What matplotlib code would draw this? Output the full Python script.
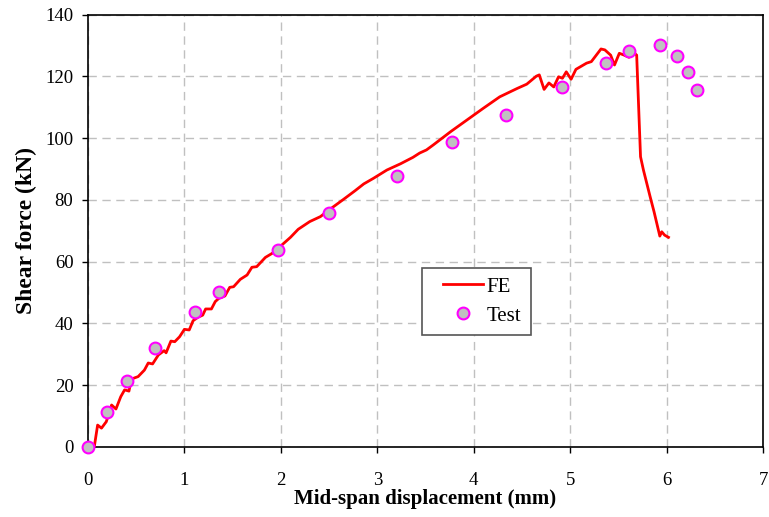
import matplotlib
matplotlib.use('Agg')
import matplotlib.pyplot as plt
from matplotlib.lines import Line2D
from matplotlib.legend_handler import HandlerLine2D

# FE curve (mid-span displacement mm, shear force kN)
fe_disp = [0.0, 0.065, 0.10, 0.14, 0.19, 0.245, 0.29, 0.34, 0.38, 0.425, 0.45, 0.52,
           0.585, 0.625, 0.67, 0.73, 0.79, 0.81, 0.86, 0.90, 0.95, 1.0, 1.05, 1.09,
           1.14, 1.19, 1.22, 1.28, 1.32, 1.36, 1.42, 1.47, 1.51, 1.58, 1.65, 1.70,
           1.75, 1.84, 1.92, 2.01, 2.10, 2.18, 2.30, 2.41, 2.51, 2.65, 2.77, 2.86,
           2.96, 3.10, 3.24, 3.37, 3.44, 3.51, 3.58, 3.76, 3.93, 4.10, 4.27, 4.45,
           4.55, 4.65, 4.68, 4.73, 4.78, 4.83, 4.88, 4.92, 4.96, 5.01, 5.06, 5.17,
           5.22, 5.32, 5.36, 5.42, 5.46, 5.51, 5.56, 5.61, 5.66, 5.69, 5.73, 5.76,
           5.83, 5.87, 5.93, 5.95, 5.98, 6.02]
fe_force = [0.0, 0.0, 7.1, 6.1, 8.2, 13.6, 12.3, 16.3, 18.5, 18.1, 22.0, 22.8,
            24.9, 27.2, 26.9, 29.8, 31.2, 30.5, 34.3, 34.1, 35.7, 38.1, 37.9, 40.9,
            42.0, 42.7, 44.7, 44.7, 47.1, 48.2, 48.9, 51.7, 51.9, 54.3, 55.7, 58.2,
            58.4, 61.4, 62.9, 65.4, 67.9, 70.5, 73.0, 74.6, 77.0, 80.2, 83.0, 85.2,
            87.0, 89.7, 91.7, 93.8, 95.2, 96.2, 97.8, 102.1, 105.9, 109.7, 113.4, 116.1,
            117.5, 120.1, 120.5, 115.8, 117.9, 116.6, 119.9, 119.4, 121.5, 119.1, 122.3, 124.3,
            124.8, 128.9, 128.6, 126.9, 123.7, 127.5, 126.9, 126.2, 127.7, 126.9, 94.0, 89.7,
            81.0, 76.2, 68.3, 69.7, 68.6, 67.9]

# Test results
test_disp = [0.0, 0.20, 0.40, 0.70, 1.11, 1.36, 1.97, 2.50, 3.20, 3.77, 4.34,
             4.92, 5.37, 5.61, 5.93, 6.11, 6.22, 6.32]
test_force = [0.0, 11.3, 21.4, 32.0, 43.7, 50.2, 63.8, 75.8, 87.8, 98.8, 107.5,
              116.6, 124.3, 128.2, 130.2, 126.6, 121.4, 115.6]


# legend handle with extra space on its left, like the original
class PaddedHandler(HandlerLine2D):
    def create_artists(self, legend, orig_handle, xdescent, ydescent, width, height, fontsize, trans):
        shift = 8.5
        return super().create_artists(legend, orig_handle, xdescent - shift, ydescent,
                                      width - shift, height, fontsize, trans)


plt.rcParams['font.family'] = ['Liberation Serif', 'DejaVu Serif']

fig, ax = plt.subplots(figsize=(7.69, 5.17), dpi=100)
fig.subplots_adjust(left=0.1144, right=0.9922, top=0.9716, bottom=0.1354)

ax.plot(fe_disp, fe_force, color='#ff0000', linewidth=2.0, label='FE', zorder=3)
ax.plot(test_disp, test_force, linestyle='none', marker='o', markersize=8.5,
        markerfacecolor='#c0c0c0', markeredgecolor='#ff00ff', markeredgewidth=1.5,
        label='Test', zorder=4, clip_on=False)

ax.set_xlim(0, 7)
ax.set_ylim(0, 140)
ax.set_xticks(range(0, 8))
ax.set_yticks(range(0, 141, 20))
ax.grid(True, color='#c0c0c0', linestyle=(0, (6, 4)), linewidth=1.0)
ax.set_axisbelow(True)
for s in ax.spines.values():
    s.set_linewidth(1.2)
ax.tick_params(labelsize=13.5, length=4, width=1.0)
ax.tick_params(axis='x', pad=14)
ax.tick_params(axis='y', pad=6.5)

ax.set_xlabel('Mid-span displacement (mm)', fontsize=15, fontweight='bold', labelpad=0)
ax.set_ylabel('Shear force (kN)', fontsize=17, fontweight='bold', labelpad=6)

leg = ax.legend(loc='lower left', bbox_to_anchor=(0.495, 0.259), borderaxespad=0,
                fontsize=15, fancybox=False, framealpha=1, edgecolor='#555555',
                handlelength=2.45, handletextpad=0.2, borderpad=0.45, labelspacing=0.45,
                handler_map={Line2D: PaddedHandler()})
leg.get_frame().set_linewidth(1.2)

plt.savefig('out.png', dpi=100)
